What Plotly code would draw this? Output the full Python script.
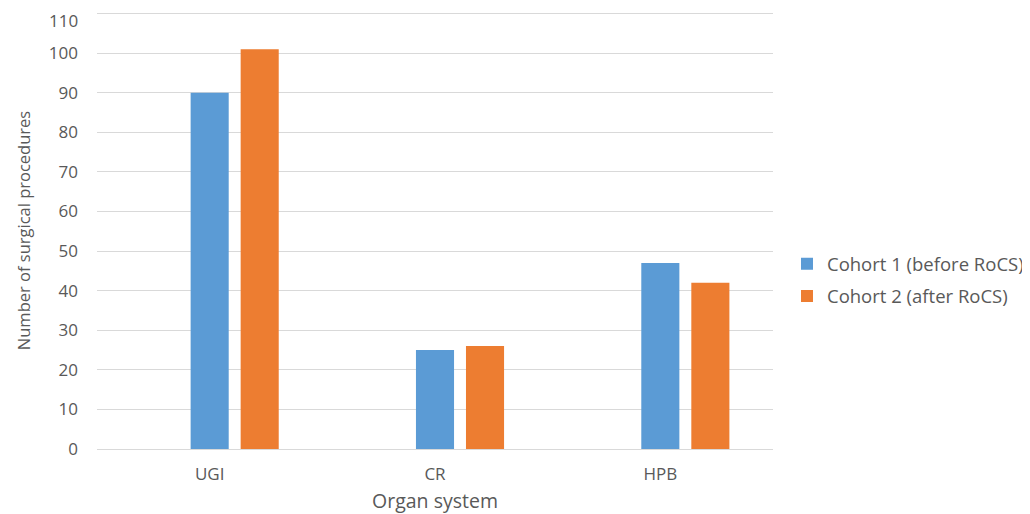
import plotly.graph_objects as go

categories = ["UGI", "CR", "HPB"]
cohort1 = [90, 25, 47]
cohort2 = [101, 26, 42]
series_names = ["Cohort 1 (before RoCS)", "Cohort 2 (after RoCS)"]
colors = ["#5B9BD5", "#ED7D31"]
y_ticks = list(range(0, 111, 10))

# bar geometry (in category units): width and left offset relative to category centre
bar_width = 0.169
bar_offsets = [-0.0845, 0.1375]

fig = go.Figure()
for i, (name, vals, c) in enumerate(zip(series_names, [cohort1, cohort2], colors)):
    fig.add_trace(go.Bar(x=categories, y=vals, name=name, legendgroup=f"g{i}",
                         width=bar_width, offset=bar_offsets[i],
                         marker=dict(color=c, line=dict(width=0))))

font_family = "Open Sans, Lato, sans-serif"
fig.update_layout(
    width=1022, height=506,
    margin=dict(l=89, r=257, t=4.4, b=65, autoexpand=False),
    paper_bgcolor="white", plot_bgcolor="white",
    barmode="overlay",
    font=dict(family=font_family, color="#595959", size=17),
    legend=dict(x=1.0207, xanchor="left", xref="paper", y=0.386, yanchor="middle",
                font=dict(size=18.5, color="#595959"), itemwidth=30, tracegroupgap=5,
                bgcolor="rgba(0,0,0,0)"),
    showlegend=True,
)
fig.update_xaxes(
    automargin=False,
    title=dict(text="Organ system", font=dict(size=19.5, color="#595959"), standoff=14),
    showline=True, linecolor="#d9d9d9", linewidth=1, ticks="", showgrid=False,
    tickfont=dict(size=17, color="#595959"), ticklabelstandoff=10,
)
fig.update_yaxes(
    automargin=False,
    title=dict(text="Number of surgical procedures", font=dict(size=16.5, color="#595959"), standoff=14),
    range=[0, 110.4], tickvals=y_ticks, showgrid=True, gridcolor="#d9d9d9", gridwidth=1,
    zeroline=False, ticks="", showline=False,
    tickfont=dict(size=17, color="#595959"), ticklabelstandoff=18,
)
# the topmost tick label sits at the page edge and is dropped by the axis; draw it as text
fig.add_annotation(x=0, xref="paper", xanchor="right", xshift=-18,
                   y=y_ticks[-1], yref="y", yanchor="top", yshift=6, borderpad=0,
                   text=str(y_ticks[-1]), showarrow=False,
                   font=dict(size=17, color="#595959", family=font_family))
fig.write_html("out.html")
